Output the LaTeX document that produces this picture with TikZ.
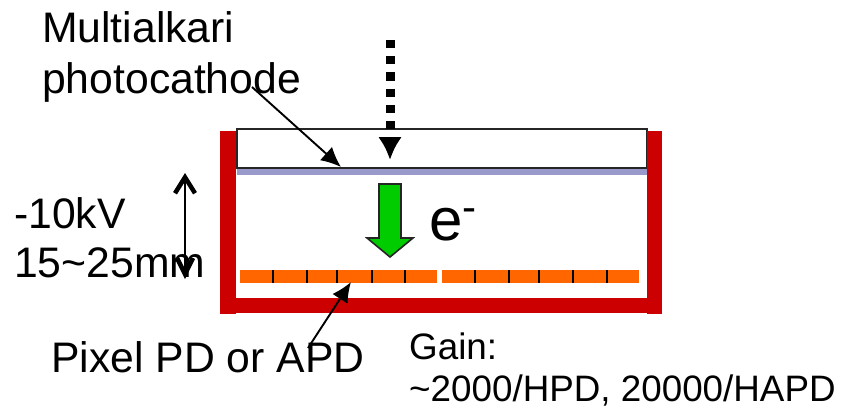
\documentclass[tikz,border=0pt]{standalone}
\usepackage{fontspec}
\setmainfont{Liberation Sans}
\usetikzlibrary{arrows.meta}
\definecolor{tubered}{RGB}{204,0,0}
\definecolor{pixelorange}{RGB}{255,102,0}
\definecolor{cathodeblue}{RGB}{153,153,204}
\definecolor{arrowgreen}{RGB}{0,204,0}
\begin{document}
\begin{tikzpicture}[
x=1pt, y=-1pt,
wall/.style={fill=tubered},
window/.style={draw=black!85, line width=1.8pt, fill=white},
cathode/.style={fill=cathodeblue},
pixelbar/.style={fill=pixelorange},
pixeltick/.style={draw=black, line width=1.8pt},
bigtext/.style={font=\fontsize{42.7}{52}\selectfont, inner sep=0pt, align=left},
smalltext/.style={font=\fontsize{36.8}{42}\selectfont, inner sep=0pt, align=left},
callout/.style={-{Latex[length=20pt, width=18pt]}, line width=1.9pt},
lightray/.style={-{Latex[length=23pt, width=24pt]}, line width=9pt, dash pattern=on 8.2pt off 8pt},
gaparrow/.style={{Straight Barb[length=16pt, width=20pt, line width=4.5pt]}-{Straight Barb[length=16pt, width=16pt, line width=4.5pt]}, line width=1.6pt},
electron/.style={draw=black!85, line width=1.6pt, fill=arrowgreen}
]

\useasboundingbox (0,0) rectangle (843,408);

% =====================================================
% Tube
% =====================================================

% Photocathode layer and window
\path[cathode] (237,167) rectangle (647,175);
\draw[window] (237,129) rectangle (647,168);

% Walls
\path[wall] (220,131) rectangle (236,314);
\path[wall] (647,131) rectangle (662,314);
\path[wall] (220,298) rectangle (662,313);

% Pixel rows
\path[pixelbar] (240,270) rectangle (437,283);
\path[pixelbar] (442,270) rectangle (639,283);
\foreach \x in {273,307,337,372,405,475,509,539,573,607}{
\draw[pixeltick] (\x,270) -- (\x,283);
}

% Electron arrow
\draw[electron]
(379,184) -- (401,184) -- (401,238) -- (413,238)
-- (390,257) -- (367,238) -- (379,238) -- cycle;

% =====================================================
% Labels
% =====================================================

\node[bigtext, anchor=base west] (labcathode) at (42,42) {Multialkari};
\node[bigtext, anchor=base west] (labcathodeb) at (42,93) {photocathode};
\node[bigtext, anchor=base west] (labvolt) at (14,228) {-10kV};
\node[bigtext, anchor=base west] (labgap) at (14,277) {15\textasciitilde 25mm};
\node[bigtext, anchor=base west] (labpixel) at (51,372) {Pixel PD or APD};
\node[font=\fontsize{60}{60}\selectfont, inner sep=0pt, anchor=base west] (labelectron) at (429,240) {e\raisebox{9pt}{\textsuperscript{-}}};
\node[smalltext, anchor=base west] (labgain) at (409,359) {Gain:};
\node[smalltext, anchor=base west] (labgainb) at (409,401) {\textasciitilde 2000/HPD, 20000/HAPD};

% =====================================================
% Arrows
% =====================================================

\coordinate (cathodetail) at (252,87);
\coordinate (cathodetip) at (341,167);
\coordinate (raytail) at (390,40);
\coordinate (raytip) at (390,160);
\coordinate (gaptop) at (185,173);
\coordinate (gapbottom) at (185,279);
\coordinate (pixeltail) at (308,348);
\coordinate (pixeltip) at (351,282);

\draw[callout] (cathodetail) -- (cathodetip);
\draw[lightray] (raytail) -- (raytip);
\draw[gaparrow] (gaptop) -- (gapbottom);
\draw[callout] (pixeltail) -- (pixeltip);

\end{tikzpicture}
\end{document}
